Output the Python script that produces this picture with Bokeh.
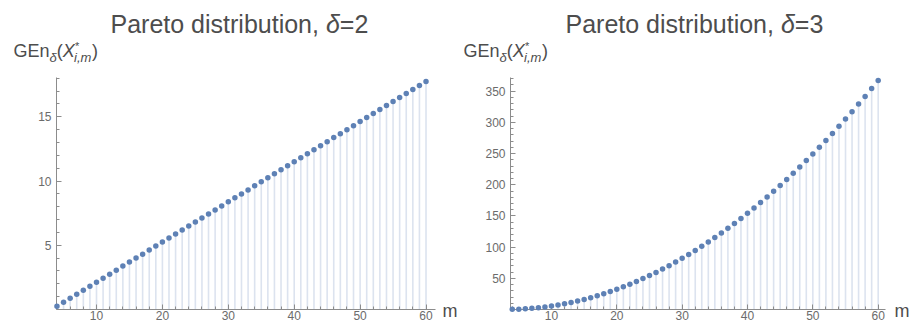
from bokeh.plotting import figure
from bokeh.models import Label, FixedTicker, Range1d, ColumnDataSource
from bokeh.layouts import row, column
from bokeh.embed import file_html
from bokeh.resources import INLINE

# ---- data ----
m_values = list(range(4, 61))

gen_delta2 = [0.25, 0.56, 0.88, 1.19, 1.50, 1.81, 2.13, 2.44, 2.75, 3.06,
              3.38, 3.69, 4.00, 4.31, 4.63, 4.94, 5.25, 5.56, 5.88, 6.19,
              6.50, 6.81, 7.13, 7.44, 7.75, 8.06, 8.38, 8.69, 9.00, 9.31,
              9.63, 9.94, 10.25, 10.56, 10.88, 11.19, 11.50, 11.81, 12.13, 12.44,
              12.75, 13.06, 13.38, 13.69, 14.00, 14.31, 14.63, 14.94, 15.25, 15.56,
              15.88, 16.19, 16.50, 16.81, 17.13, 17.44, 17.75]

gen_delta3 = [0.26, 0.56, 1.10, 1.86, 2.84, 4.06, 5.50, 7.17, 9.06, 11.19,
              13.54, 16.11, 18.92, 21.95, 25.20, 28.69, 32.40, 36.34, 40.50, 44.90,
              49.52, 54.36, 59.44, 64.74, 70.26, 76.02, 82.00, 88.21, 94.64, 101.31,
              108.20, 115.31, 122.66, 130.23, 138.02, 146.05, 154.30, 162.78, 171.48, 180.42,
              189.58, 198.96, 208.58, 218.42, 228.48, 238.78, 249.30, 260.05, 271.02, 282.23,
              293.66, 305.31, 317.20, 329.31, 341.64, 354.21, 367.00]

deltas = ["2", "3"]
x_major_ticks = [10, 20, 30, 40, 50, 60]
x_minor_ticks = [4, 6, 8, 12, 14, 16, 18, 22, 24, 26, 28, 32, 34, 36, 38,
                 42, 44, 46, 48, 52, 54, 56, 58]
y_major_ticks = [[5, 10, 15], [50, 100, 150, 200, 250, 300, 350]]
y_minor_ticks = [[1, 2, 3, 4, 6, 7, 8, 9, 11, 12, 13, 14, 16, 17, 18],
                 [10, 20, 30, 40, 60, 70, 80, 90, 110, 120, 130, 140, 160, 170, 180, 190,
                  210, 220, 230, 240, 260, 270, 280, 290, 310, 320, 330, 340, 360, 370]]

POINT = "#5E81B5"
AXIS = "#8c8c8c"
TICKLAB = "#6b6b6b"
TEXT = "#4d4d4d"
FONT = "Liberation Sans"
HEAD_H = 75
TOTAL_W = 911
TOTAL_H = 324
LIFT = 0.4  # baseline correction, fraction of the font size

# ---- header: titles and y-axis labels of both panels ----
head = figure(width=TOTAL_W, height=HEAD_H, x_range=Range1d(0, TOTAL_W),
              y_range=Range1d(0, HEAD_H), x_axis_type=None, y_axis_type=None,
              output_backend="svg", toolbar_location=None, min_border=0)
head.outline_line_color = None
head.grid.visible = False


def lab(text, sx, sy, size, italic=False):
    head.add_layout(Label(x=sx, y=sy + LIFT * size, x_units="screen", y_units="screen",
                          text=text, text_font=FONT, text_font_size=f"{size}px",
                          text_font_style="italic" if italic else "normal",
                          text_color=TEXT, text_align="left",
                          text_baseline="alphabetic"))


for delta, title_x, ylab_x in ((deltas[0], 110, 13), (deltas[1], 565, 463)):
    ty = HEAD_H - 33
    lab("Pareto distribution,", title_x, ty, 25)
    lab("δ", title_x + 215.4, ty, 25, italic=True)
    lab("=" + delta, title_x + 229.3, ty, 25)

    ly = HEAD_H - 58
    lab("GEn", ylab_x, ly, 18)
    lab("δ", ylab_x + 36, ly - 4, 13, italic=True)
    lab("(", ylab_x + 43.2, ly, 18)
    lab("X", ylab_x + 49.2, ly, 18, italic=True)
    lab("*", ylab_x + 61.5, ly + 8, 11)
    lab("i,m", ylab_x + 60.5, ly - 4, 13, italic=True)
    lab(")", ylab_x + 78.5, ly, 18)


def make_plot(vals, ymaj, ymin, width, b_left, b_right, b_top, xr, yr, m_dx):
    src = ColumnDataSource(dict(m=m_values, v=vals))
    p = figure(width=width, height=TOTAL_H - HEAD_H, x_range=Range1d(*xr),
               y_range=Range1d(*yr), output_backend="svg", toolbar_location=None,
               min_border_left=b_left, min_border_right=b_right,
               min_border_top=b_top, min_border_bottom=15)
    p.outline_line_color = None
    p.grid.visible = False

    p.segment(x0="m", y0=0, x1="m", y1="v", source=src,
              line_color=POINT, line_alpha=0.22, line_width=1.6)
    p.scatter("m", "v", source=src, size=5.5, fill_color=POINT,
              line_color=None, level="overlay")

    p.xaxis.ticker = FixedTicker(ticks=x_major_ticks, minor_ticks=x_minor_ticks)
    p.yaxis.ticker = FixedTicker(ticks=ymaj, minor_ticks=ymin)
    for ax in (p.xaxis[0], p.yaxis[0]):
        ax.axis_line_color = AXIS
        ax.major_tick_line_color = AXIS
        ax.minor_tick_line_color = AXIS
        ax.major_tick_in = 5
        ax.major_tick_out = 0
        ax.minor_tick_in = 3
        ax.minor_tick_out = 0
        ax.major_label_text_font = FONT
        ax.major_label_text_font_size = "12px"
        ax.major_label_text_color = TICKLAB
    p.xaxis.major_label_standoff = 1
    p.yaxis.major_label_standoff = 5

    # x label "m", right of the x axis end
    p.add_layout(Label(x=m_dx, y=-9 + LIFT * 18, x_units="screen", y_units="screen",
                       text="m", text_font=FONT, text_font_size="18px",
                       text_color=TEXT, text_align="left",
                       text_baseline="alphabetic"), "right")
    return p


p1 = make_plot(gen_delta2, y_major_ticks[0], y_minor_ticks[0],
               460, 56, 25, 0, (3.93, 61.44), (0, 18.06), 7)
p2 = make_plot(gen_delta3, y_major_ticks[1], y_minor_ticks[1],
               451, 50, 26, 2, (3.73, 61.12), (0, 372), 9)

layout = column(head, row(p1, p2))
open("out.html", "w").write(file_html(layout, INLINE, "Pareto distribution"))
